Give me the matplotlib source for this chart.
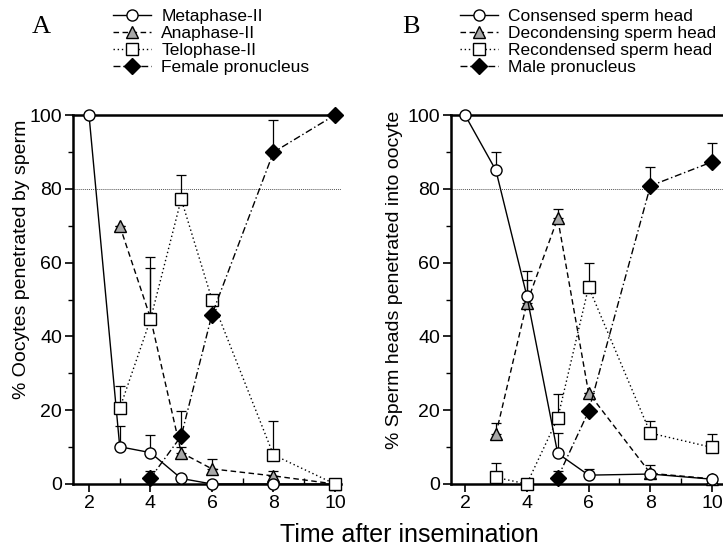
import matplotlib.pyplot as plt
from matplotlib.ticker import MultipleLocator

plt.rcParams['font.family'] = ['Liberation Sans', 'DejaVu Sans']

# Panel A: oocyte stages
time_a_meta = [2, 3, 4, 5, 6, 8, 10]
metaphase = [100, 10.1, 8.5, 1.5, 0, 0, 0]
metaphase_err = [0, 5.7, 4.8, 0, 0, 0, 0]

time_a_ana = [3, 4, 5, 6, 8, 10]
anaphase = [70, 45, 8.5, 4.1, 2.2, 0]
anaphase_err = [0, 13.6, 1.6, 2.6, 1.4, 0]

time_a_telo = [3, 4, 5, 6, 8, 10]
telophase = [20.5, 44.6, 77.2, 50, 7.9, 0]
telophase_err = [6, 16.8, 6.6, 0, 9.3, 0]

time_a_fem = [4, 5, 6, 8, 10]
female_pn = [1.6, 13, 45.9, 89.9, 100]
female_pn_err = [2, 6.8, 0, 8.7, 0]

# Panel B: sperm head stages
time_b_cond = [2, 3, 4, 5, 6, 8, 10]
condensed = [100, 85, 51, 8.3, 2.4, 2.7, 1.3]
condensed_err = [0, 5, 6.7, 5.5, 1.6, 0, 0]

time_b_decond = [3, 4, 5, 6, 8, 10]
decondensing = [13.5, 49, 72, 24.7, 2.9, 1.4]
decondensing_err = [3, 6.3, 2.4, 0, 2.2, 0]

time_b_recond = [3, 4, 5, 6, 8, 10]
recondensed = [1.8, 0, 17.8, 53.4, 13.8, 9.9]
recondensed_err = [4, 0, 6.6, 6.5, 3.3, 3.6]

time_b_male = [5, 6, 8, 10]
male_pn = [1.7, 19.7, 80.8, 87.3]
male_pn_err = [1.9, 0, 5, 5]

labels_a = ["Metaphase-II", "Anaphase-II", "Telophase-II", "Female pronucleus"]
labels_b = ["Consensed sperm head", "Decondensing sperm head",
            "Recondensed sperm head", "Male pronucleus"]

STYLES = [
    dict(marker='o', mfc='white', ms=8, ls='-', zorder=4),
    dict(marker='^', mfc='#a8a8a8', ms=8, ls=(0, (4, 2.5)), zorder=3),
    dict(marker='s', mfc='white', ms=8.5, ls=(0, (1, 2)), zorder=5),
    dict(marker='D', mfc='black', ms=8, ls=(0, (5, 2, 1, 2)), zorder=6),
]


def draw_panel(ax, series, labels, xlim):
    for (x, y, err), lab, st in zip(series, labels, STYLES):
        ax.errorbar(x, y, yerr=[[0] * len(err), err], fmt='none', ecolor='black',
                    elinewidth=0.9, capsize=3.5, capthick=0.9, zorder=st['zorder'] - 0.5)
        ax.plot(x, y, color='black', lw=1, ls=st['ls'], marker=st['marker'],
                mfc=st['mfc'], mec='black', mew=1, ms=st['ms'], zorder=st['zorder'],
                label=lab, clip_on=False)
    ax.axhline(80, color='#555555', lw=0.7, ls=(0, (1, 1)), zorder=1)
    ax.axhline(100, color='black', lw=1.8, zorder=2, clip_on=False)
    ax.set_xlim(*xlim)
    ax.set_ylim(0, 100)
    ax.set_xticks([2, 4, 6, 8, 10])
    ax.set_yticks([0, 20, 40, 60, 80, 100])
    ax.xaxis.set_minor_locator(MultipleLocator(1))
    ax.yaxis.set_minor_locator(MultipleLocator(10))
    for s in ['top', 'right']:
        ax.spines[s].set_visible(False)
    for s in ['left', 'bottom']:
        ax.spines[s].set_linewidth(1.8)
    ax.tick_params(which='major', direction='out', length=6, width=1.2, labelsize=14, pad=2)
    ax.tick_params(axis='x', which='minor', direction='in', length=4, width=1)
    ax.tick_params(axis='y', which='minor', direction='out', length=3.5, width=1)


fig = plt.figure(figsize=(7.23, 5.49), dpi=100)
ax_a = fig.add_axes([0.101, 0.1184, 0.3707, 0.6721])
ax_b = fig.add_axes([0.6238, 0.1184, 0.3762, 0.6721])

draw_panel(ax_a, [(time_a_meta, metaphase, metaphase_err),
                  (time_a_ana, anaphase, anaphase_err),
                  (time_a_telo, telophase, telophase_err),
                  (time_a_fem, female_pn, female_pn_err)], labels_a, (1.48, 10.2))
draw_panel(ax_b, [(time_b_cond, condensed, condensed_err),
                  (time_b_decond, decondensing, decondensing_err),
                  (time_b_recond, recondensed, recondensed_err),
                  (time_b_male, male_pn, male_pn_err)], labels_b, (1.547, 10.35))

for ax, x0 in [(ax_a, 0.156), (ax_b, 0.636)]:
    ax.legend(loc='upper left', bbox_to_anchor=(x0, 0.983), bbox_transform=fig.transFigure,
              frameon=False, borderpad=0, borderaxespad=0, fontsize=12.5,
              handlelength=2.2, handletextpad=0.6, labelspacing=0.1, numpoints=1)

fig.text(0.057, 0.951, "A", fontsize=19, family='Liberation Serif', ha='center', va='center')
fig.text(0.568, 0.951, "B", fontsize=19, family='Liberation Serif', ha='center', va='center')

fig.text(0.030, 0.528, "% Oocytes penetrated by sperm", rotation=90, fontsize=14,
         ha='center', va='center')
fig.text(0.546, 0.49, "% Sperm heads penetrated into oocyte", rotation=90, fontsize=14,
         ha='center', va='center')
fig.text(0.566, 0.026, "Time after insemination", fontsize=18, ha='center', va='center')

fig.savefig("out.png", dpi=100)
